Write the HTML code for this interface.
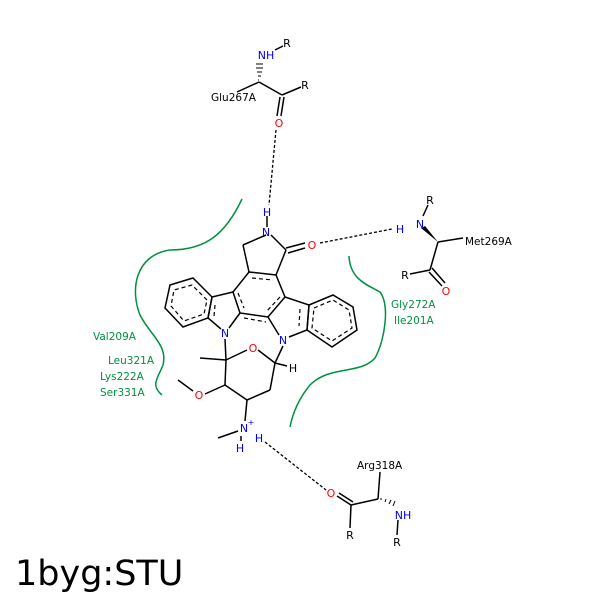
<!DOCTYPE html>
<html><head><meta charset="utf-8"><style>
html,body{margin:0;padding:0;background:#fff;width:600px;height:600px;overflow:hidden}
svg text{font-family:"DejaVu Sans","Liberation Sans",sans-serif}
</style></head><body>
<svg width="600" height="600" viewBox="0 0 600 600" xmlns="http://www.w3.org/2000/svg">
<rect x="0" y="0" width="600" height="600" fill="#fff"/>
<g fill="none" stroke="#009140" stroke-width="1.5">
<path d="M242,199 C225,235 205,250 170,250 C135,255 130,290 140,315 C150,335 168,345 163,365 C158,378 150,385 162,395"/>
<path d="M349,256 C350,280 368,285 380,292 C390,305 385,340 375,358 C360,375 330,365 310,385 C300,397 293,412 290,427"/>
</g>
<g fill="none" stroke="#000" stroke-width="1.5">
<line x1="266" y1="235" x2="243" y2="245"/>
<line x1="243" y1="245" x2="249" y2="272"/>
<line x1="271" y1="235" x2="286" y2="250"/>
<line x1="286" y1="250" x2="276" y2="275"/>
<line x1="286" y1="248" x2="305" y2="243"/>
<line x1="288" y1="253" x2="305" y2="248"/>
<line x1="267" y1="216" x2="267" y2="227"/>
<polygon points="249,272 276,275 285,297 268,317 240,313 233,292"/>
<polyline points="233,292 212,297 208,318 221,329"/>
<line x1="240" y1="313" x2="229" y2="328"/>
<polygon points="212,297 193,278 170,285 165,308 183,327 208,318"/>
<polyline points="285,297 309,305 307,330 289,337"/>
<line x1="268" y1="317" x2="279" y2="335"/>
<polygon points="309,305 333,295 353,307 357,330 332,347 307,330"/>
<line x1="225" y1="339" x2="226" y2="360"/>
<line x1="226" y1="360" x2="200" y2="358"/>
<line x1="226" y1="360" x2="247" y2="350"/>
<line x1="258" y1="350" x2="275" y2="363"/>
<line x1="275" y1="363" x2="283" y2="346"/>
<line x1="275" y1="363" x2="287" y2="366"/>
<line x1="275" y1="363" x2="270" y2="390"/>
<line x1="270" y1="390" x2="247" y2="400"/>
<line x1="247" y1="400" x2="225" y2="385"/>
<line x1="225" y1="385" x2="226" y2="360"/>
<line x1="225" y1="385" x2="205" y2="394"/>
<line x1="193" y1="391" x2="178" y2="380"/>
<line x1="247" y1="400" x2="245" y2="421"/>
<line x1="238" y1="431" x2="218" y2="438"/>
<line x1="241" y1="436" x2="241" y2="441"/>
<line x1="237" y1="92" x2="259" y2="82"/>
<line x1="259" y1="82" x2="282" y2="95"/>
<line x1="282" y1="95" x2="301" y2="87"/>
<line x1="280" y1="97" x2="277" y2="116"/>
<line x1="284" y1="97" x2="281" y2="116"/>
<line x1="275" y1="50" x2="283" y2="46"/>
<line x1="423" y1="216" x2="428" y2="205"/>
<line x1="438" y1="242" x2="463" y2="238"/>
<line x1="438" y1="242" x2="430" y2="270"/>
<line x1="430" y1="270" x2="410" y2="274"/>
<line x1="429" y1="272" x2="442" y2="286"/>
<line x1="432" y1="268" x2="445" y2="283"/>
<line x1="337" y1="496" x2="351" y2="505"/>
<line x1="339" y1="493" x2="353" y2="502"/>
<line x1="351" y1="505" x2="378" y2="499"/>
<line x1="351" y1="505" x2="350" y2="528"/>
<line x1="378" y1="499" x2="380" y2="472"/>
<line x1="398" y1="520" x2="397" y2="535"/>
</g>
<g fill="none" stroke="#000" stroke-width="1.2" stroke-dasharray="4,3">
<polygon points="207,300 192,285 174,290 171,306 184,321 204,314"/>
<polygon points="314,308 333,300 349,310 352,328 332,341 312,328"/>
<line x1="252" y1="278" x2="273" y2="280"/>
<line x1="280" y1="297" x2="266" y2="312"/>
<line x1="238" y1="293" x2="244" y2="308"/>
<line x1="244" y1="318" x2="266" y2="322"/>
<line x1="215" y1="305" x2="214" y2="316"/>
<line x1="300" y1="309" x2="299" y2="326"/>
</g>
<polygon points="438,242 421,228 425,226" fill="#000"/>
<g stroke="#000" stroke-width="1">
<line x1="259" y1="80" x2="258" y2="80"/><line x1="258" y1="76" x2="261" y2="76"/><line x1="257" y1="72" x2="262" y2="72"/><line x1="256" y1="68" x2="263" y2="68"/><line x1="256" y1="64" x2="263" y2="64"/>
<line x1="381" y1="500" x2="381" y2="498"/><line x1="385" y1="502" x2="386" y2="499"/><line x1="389" y1="504" x2="391" y2="500"/><line x1="393" y1="506" x2="395" y2="501"/>
</g>
<g fill="none" stroke="#000" stroke-width="1.3" stroke-dasharray="3,2">
<line x1="276" y1="130" x2="269" y2="205"/>
<line x1="320" y1="243" x2="392" y2="229"/>
<line x1="265" y1="442" x2="326" y2="490"/>
</g>
<g font-size="11" text-anchor="middle">
<text x="267" y="216" fill="#0000ff">H</text>
<text x="266" y="236" fill="#0000ff">N</text>
<text x="312" y="249" fill="#ff0000">O</text>
<text x="225" y="337" fill="#0000ff">N</text>
<text x="283" y="344" fill="#0000ff">N</text>
<text x="253" y="352" fill="#ff0000">O</text>
<text x="293" y="372" fill="#000">H</text>
<text x="199" y="399" fill="#ff0000">O</text>
<text x="244" y="432" fill="#0000ff">N</text>
<text x="251" y="425" fill="#0000ff" font-size="8">+</text>
<text x="240" y="452" fill="#0000ff">H</text>
<text x="259" y="442" fill="#0000ff">H</text>
<text x="266" y="59" fill="#0000ff">NH</text>
<text x="287" y="47" fill="#000">R</text>
<text x="305" y="89" fill="#000">R</text>
<text x="279" y="127" fill="#ff0000">O</text>
<text x="400" y="233" fill="#0000ff">H</text>
<text x="420" y="228" fill="#0000ff">N</text>
<text x="430" y="204" fill="#000">R</text>
<text x="405" y="279" fill="#000">R</text>
<text x="446" y="295" fill="#ff0000">O</text>
<text x="331" y="497" fill="#ff0000">O</text>
<text x="350" y="539" fill="#000">R</text>
<text x="403" y="519" fill="#0000ff">NH</text>
<text x="397" y="546" fill="#000">R</text>
</g>
<g font-size="10.5" fill="#000">
<text x="211" y="101">Glu267A</text>
<text x="465" y="245">Met269A</text>
<text x="357" y="469">Arg318A</text>
</g>
<g font-size="10.5" fill="#009140">
<text x="93" y="340">Val209A</text>
<text x="108" y="364">Leu321A</text>
<text x="100" y="380">Lys222A</text>
<text x="100" y="396">Ser331A</text>
<text x="391" y="308">Gly272A</text>
<text x="394" y="324">Ile201A</text>
</g>
<text x="15" y="585" font-size="35" fill="#000">1byg:STU</text>
</svg>
</body></html>
